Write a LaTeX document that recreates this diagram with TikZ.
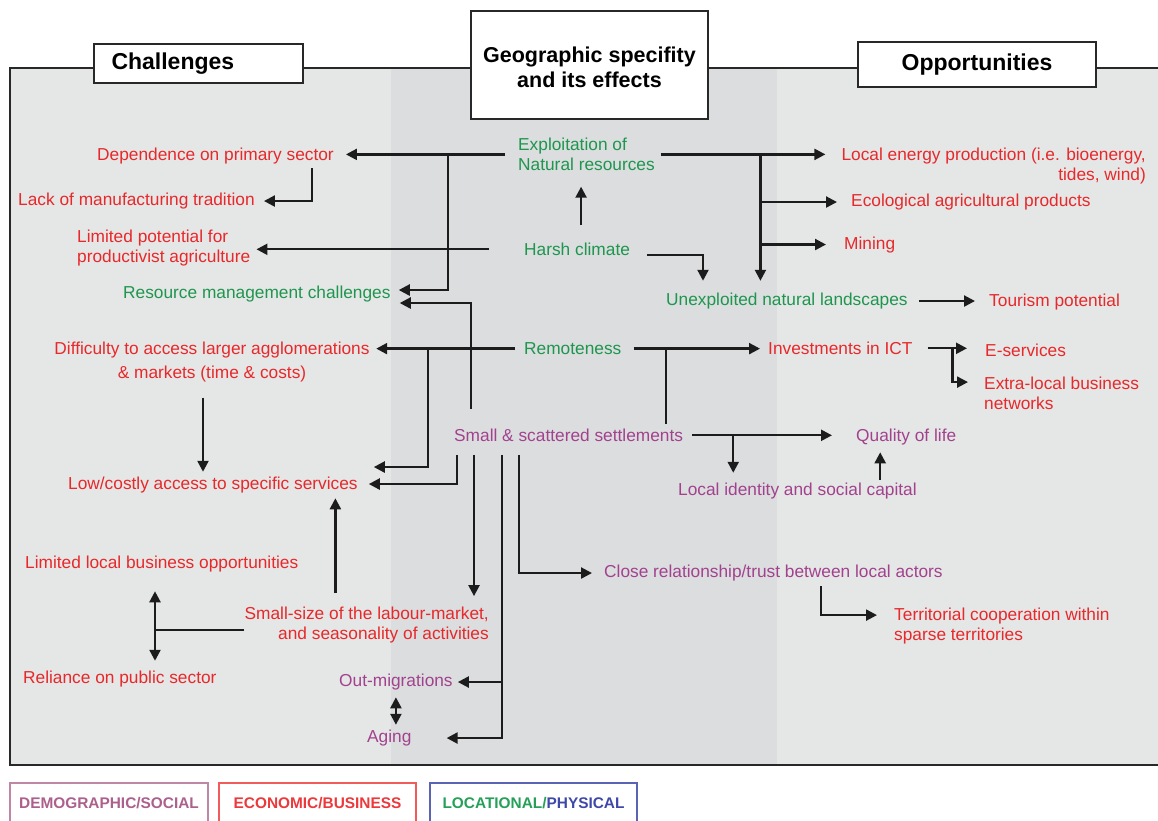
\documentclass[tikz,border=0pt]{standalone}
\usepackage{fontspec}
\setmainfont{Liberation Sans}
\usetikzlibrary{arrows.meta,calc}

\definecolor{ink}{RGB}{28,28,28}
\definecolor{framec}{RGB}{40,40,40}
\definecolor{bgA}{RGB}{229,230,230}
\definecolor{bgB}{RGB}{219,221,223}
\definecolor{eco}{RGB}{232,40,42}
\definecolor{loc}{RGB}{30,150,78}
\definecolor{soc}{RGB}{162,66,142}
\definecolor{keysocT}{RGB}{172,96,140}
\definecolor{keysocB}{RGB}{190,135,165}
\definecolor{keyecoT}{RGB}{236,58,60}
\definecolor{keyecoB}{RGB}{242,90,92}
\definecolor{keylocT}{RGB}{38,160,88}
\definecolor{keyphyT}{RGB}{62,72,168}
\definecolor{keylocB}{RGB}{90,100,178}

\begin{document}
\begin{tikzpicture}[x=1pt,y=-1pt,
  lbl/.style={inner sep=0pt, font=\fontsize{17.3}{19.5}\selectfont},
  ecotxt/.style={lbl, text=eco},
  loctxt/.style={lbl, text=loc},
  soctxt/.style={lbl, text=soc},
  arr/.style={draw=ink, line width=2.3pt, -{Triangle[length=11pt,width=11pt]}},
  dbl/.style={draw=ink, line width=2.3pt, {Triangle[length=11pt,width=11pt]}-{Triangle[length=11pt,width=11pt]}},
  ln/.style={draw=ink, line width=2.3pt},
  hdr/.style={draw=framec, line width=1.8pt, fill=white, inner sep=0pt,
    font=\fontsize{23}{25}\selectfont\bfseries},
  keybox/.style={line width=1.6pt, fill=white, minimum height=40pt, inner sep=0pt,
    text height=11pt, text depth=0pt, font=\fontsize{15.4}{17}\selectfont\bfseries}
]
\useasboundingbox (0,0) rectangle (1158,821);

% panel background and central band
\fill[bgA] (10,68) rectangle (1158,765);
\fill[bgB] (391,68) rectangle (777,765);
\draw[framec, line width=2.6pt] (1158,68) -- (10,68) -- (10,765) -- (1158,765);

% column headers
\node[hdr, minimum width=209pt, minimum height=39pt, text width=174pt, align=left]
  (chal) at (198.5,63.5) {Challenges};
\node[hdr, minimum width=237pt, minimum height=108pt] (geo) at (589.5,65) {};
\node[inner sep=0pt, align=center, font=\fontsize{21.5}{25}\selectfont\bfseries]
  (geot) at ($(geo.center)+(0,2.5)$) {Geographic specifity\\and its effects};
\node[hdr, minimum width=238pt, minimum height=45pt] (opp) at (977,64.5) {Opportunities};

% locational / physical factors
\node[loctxt, anchor=north west, align=left] (expl) at (518,138.1) {Exploitation of\\Natural resources};
\node[loctxt, anchor=base west] (harsh) at (524,255.5) {Harsh climate};
\node[loctxt, anchor=base west] (resmg) at (123,298.5) {Resource management challenges};
\node[loctxt, anchor=base west] (unexp) at (666,305.5) {Unexploited natural landscapes};
\node[loctxt, anchor=base west] (remote) at (524,354.5) {Remoteness};

% economic / business effects
\node[ecotxt, anchor=base west] (dep) at (97,160.5) {Dependence on primary sector};
\node[ecotxt, anchor=base west] (lack) at (18,205.5) {Lack of manufacturing tradition};
\node[ecotxt, anchor=north west, align=left] (limpot) at (77,230.1) {Limited potential for\\productivist agriculture};
\node[ecotxt, anchor=north, align=center, font=\fontsize{17.3}{24}\selectfont] (diff) at (212,342.1)
  {Difficulty to access larger agglomerations\\\& markets (time \& costs)};
\node[ecotxt, anchor=base west] (lowcost) at (68,489.5) {Low/costly access to specific services};
\node[ecotxt, anchor=base west] (limbus) at (25,568.5) {Limited local business opportunities};
\node[ecotxt, anchor=base west] (relpub) at (23,683.5) {Reliance on public sector};
\node[ecotxt, anchor=north east, align=right] (smallsize) at (489,607.1)
  {Small-size of the labour-market,\\and seasonality of activities};
\node[ecotxt, anchor=north east, align=right] (energy) at (1146,148.1)
  {Local energy production (i.e. bioenergy,\\tides, wind)};
\node[ecotxt, anchor=base west] (ecol) at (851,206.5) {Ecological agricultural products};
\node[ecotxt, anchor=base west] (mining) at (844,249) {Mining};
\node[ecotxt, anchor=base west] (tourism) at (989,306.5) {Tourism potential};
\node[ecotxt, anchor=base west] (ict) at (768,354.5) {Investments in ICT};
\node[ecotxt, anchor=base west] (eserv) at (985,356.5) {E-services};
\node[ecotxt, anchor=north west, align=left] (extra) at (984,377.1) {Extra-local business\\networks};
\node[ecotxt, anchor=north west, align=left] (terr) at (894,608.1) {Territorial cooperation within\\sparse territories};

% demographic / social effects
\node[soctxt, anchor=base west] (settle) at (454,441.5) {Small \& scattered settlements};
\node[soctxt, anchor=base west] (qol) at (856,441.5) {Quality of life};
\node[soctxt, anchor=base west] (ident) at (678,495.5) {Local identity and social capital};
\node[soctxt, anchor=base west] (close) at (604,577.5) {Close relationship/trust between local actors};
\node[soctxt, anchor=base west] (outmig) at (339,686.5) {Out-migrations};
\node[soctxt, anchor=base west] (aging) at (367,742.5) {Aging};

% legend
\node[keybox, draw=keysocB, text=keysocT, minimum width=198pt] (ksoc) at (109,803) {DEMOGRAPHIC/SOCIAL};
\node[keybox, draw=keyecoB, text=keyecoT, minimum width=197pt] (keco) at (317.5,803) {ECONOMIC/BUSINESS};
\node[keybox, draw=keylocB, minimum width=207pt] (kloc) at (533.5,803)
  {\textcolor{keylocT}{LOCATIONAL/}\textcolor{keyphyT}{PHYSICAL}};

% junction points on trunk lines
\path ([xshift=-70pt]expl.west) coordinate (j1);
\path ([xshift=105.5pt]expl.east) coordinate (j2);
\path ([xshift=-96pt]remote.west) coordinate (j3);
\path ($(settle.north east)+(-17,-5)$) coordinate (s1);
\path ($(settle.south west)+(48,13)$) coordinate (t1);
\path ([xshift=50pt]settle.east) coordinate (j5);
\path ([xshift=40pt]ict.east) coordinate (j6);
\path ($(qol.south)+(-26,7)$) coordinate (q1);
\path ($(diff.south)+(-9,15)$) coordinate (d1);
\path ($(smallsize.north west)+(91,-14)$) coordinate (m1);
\path ($(limbus.south west)+(130,19)$) coordinate (u1);
\path ($(smallsize.west)+(0,5)$) coordinate (k1);
\path ($(harsh.north)+(4,-18)$) coordinate (h1);
\path ($(expl.south)+(0,16)$) coordinate (e1);

% natural resources
\draw[arr, shorten >=12pt] ([xshift=-13pt]expl.west) -- (expl.west -| dep.east);
\draw[arr] (j1) |- ($(resmg.east)+(8,-4)$);
\draw[arr] ($(dep.south east)+(-22,4)$) |- ($(lack.east)+(9,0)$);
\draw[arr, shorten >=16pt] ([xshift=6pt]expl.east) -- (expl.east -| energy.west);
\draw[arr, shorten >=12pt] (j2) -- (j2 |- unexp.north);
\draw[arr, shorten >=14pt] (j2 |- ecol.west) -- (ecol.west);
\draw[arr, shorten >=18pt] (j2 |- mining.west) -- (mining.west);
\draw[arr, shorten >=14pt] ([xshift=11pt]unexp.east) -- (unexp.east -| tourism.west);

% climate
\draw[arr, shorten >=6pt] ([xshift=-35pt]harsh.west) -- (harsh.west -| limpot.east);
\draw[arr] (h1) -- (h1 |- e1);
\draw[arr] ($(harsh.east)+(17,6)$) -| ($(unexp.north west)+(37,-12)$);

% remoteness
\draw[arr, shorten >=6.5pt] ([xshift=-9pt]remote.west) -- (remote.west -| diff.east);
\draw[arr] (j3) |- ($(lowcost.east)+(16,-18)$);
\draw[arr, shorten >=8pt] ([xshift=12pt]remote.east) -- (remote.east -| ict.west);
\draw[arr, shorten >=18pt] ([xshift=15pt]ict.east) -- (ict.east -| eserv.west);
\draw[arr, shorten >=16pt] (j6) |- ($(extra.north west)+(0,5)$);

% settlement pattern
\draw[ln] (s1) -- (s1 |- remote.east);
\draw[arr] ($(settle.north west)+(17,-20)$) |- ($(resmg.east)+(9,9)$);
\draw[arr] ($(settle.south west)+(3,13)$) |- ($(lowcost.east)+(11,-1)$);
\draw[arr] ($(settle.south west)+(20,13)$) -- ($(smallsize.north east)+(-15,-11)$);
\draw[arr] (t1) |- ($(aging.east)+(35,0)$);
\draw[arr, shorten >=5pt] (t1 |- outmig.east) -- (outmig.east);
\draw[arr] ($(settle.south west)+(65,13)$) |- ($(close.west)+(-12,0)$);
\draw[arr, shorten >=24pt] ([xshift=9pt]settle.east) -- (settle.east -| qol.west);
\draw[arr, shorten >=10pt] (j5) -- (j5 |- ident.north);
\draw[arr, shorten <=3pt] (q1 |- ident.north) -- (q1);
\draw[arr] ($(close.south west)+(217,5)$) |- ($(terr.north west)+(-17,7)$);

% consequences among challenges
\draw[arr, shorten >=5pt] (d1) -- (d1 |- lowcost.north);
\draw[arr, shorten >=5pt] (m1) -- (m1 |- lowcost.south);
\draw[dbl, shorten >=10pt] (u1) -- (u1 |- relpub.north);
\draw[ln] (k1) -- (k1 -| u1);
\draw[dbl, shorten <=7pt, shorten >=5pt] (outmig.south) -- (outmig.south |- aging.north);
\end{tikzpicture}
\end{document}
